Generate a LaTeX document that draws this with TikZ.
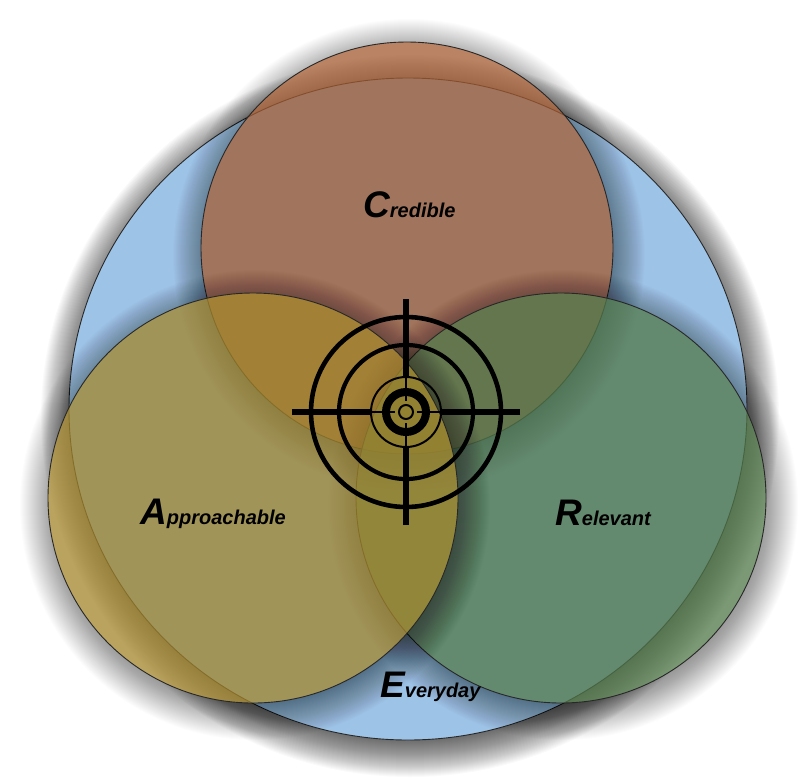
\documentclass[tikz,border=0pt]{standalone}
\usepackage{fontspec}
\setmainfont{Liberation Sans}
\usetikzlibrary{calc}
\definecolor{eblue}{RGB}{157,195,230}
\definecolor{cbrown}{RGB}{163,90,48}
\definecolor{agold}{RGB}{163,133,42}
\definecolor{rgreen}{RGB}{80,119,72}
\definecolor{edgecol}{RGB}{40,40,40}
\tikzset{
  outline/.style={draw=edgecol, line width=0.9pt},
  translucent/.style={fill opacity=0.75},
  lbl/.style={inner sep=0pt, anchor=base west, text=black,
    font=\bfseries\itshape\fontsize{20}{20}\selectfont},
  thickline/.style={draw=black, line width=5.3pt},
  thinline/.style={draw=black, line width=2.5pt},
}
\newcommand\BigLetter[1]{{\fontsize{37}{37}\selectfont #1}}
% #1 centre, #2 rx, #3 ry, #4 opacity per layer
\newcommand\shadowlayers[4]{%
  \foreach \e in {-8,-7,...,30} {
    \fill[black, fill opacity=#4] ([shift={(2,7)}]#1)
      ellipse [x radius={#2pt+(\e)*1pt}, y radius={#3pt+(\e)*1pt}];
  }}
\begin{document}
\begin{tikzpicture}[x=1pt,y=-1pt]
\useasboundingbox (0,0) rectangle (800,782);
\fill[white] (0,0) rectangle (800,782);
% Everyday (blue)
\shadowlayers{408,409}{339}{331}{0.019}
\path[fill=eblue, outline] (408,409) ellipse [x radius=339pt, y radius=331pt];
% Credible
\begin{scope}[even odd rule]
  \clip (-10,-10) rectangle (810,792) (407,248) circle [radius=206pt];
  \shadowlayers{407,248}{206}{206}{0.011}
\end{scope}
\path[fill=cbrown, translucent, outline] (407,248) circle [radius=206pt];
% Relevant
\begin{scope}[even odd rule]
  \clip (-10,-10) rectangle (810,792) (561,498) circle [radius=205pt];
  \shadowlayers{561,498}{205}{205}{0.011}
\end{scope}
\path[fill=rgreen, translucent, outline] (561,498) circle [radius=205pt];
% Approachable
\begin{scope}[even odd rule]
  \clip (-10,-10) rectangle (810,792) (253,498) circle [radius=205pt];
  \shadowlayers{253,498}{205}{205}{0.011}
\end{scope}
\path[fill=agold, translucent, outline] (253,498) circle [radius=205pt];
% labels
\node[lbl] (credible) at (363,217) {\BigLetter{C}redible};
\node[lbl] (approachable) at (140,524) {\BigLetter{A}pproachable};
\node[lbl] (relevant) at (555,525) {\BigLetter{R}elevant};
\node[lbl] (everyday) at (380,697) {\BigLetter{E}veryday};
% target
\coordinate (tc) at (406,412);
\foreach \r/\w in {95/4.6, 67/4.2, 35/2, 20/8, 7/2}
  \draw[line width=\w pt] (tc) circle [radius=\r pt];
\draw[thickline] ($(tc)+(0,-113)$) -- ($(tc)+(0,-35)$);
\draw[thickline] ($(tc)+(0,113)$) -- ($(tc)+(0,35)$);
\draw[thickline] ($(tc)+(-114,0)$) -- ($(tc)+(-35,0)$);
\draw[thickline] ($(tc)+(114,0)$) -- ($(tc)+(35,0)$);
\draw[thinline] ($(tc)+(0,-35)$) -- ($(tc)+(0,-11)$);
\draw[thinline] ($(tc)+(0,35)$) -- ($(tc)+(0,11)$);
\draw[thinline] ($(tc)+(-35,0)$) -- ($(tc)+(-11,0)$);
\draw[thinline] ($(tc)+(35,0)$) -- ($(tc)+(11,0)$);
\end{tikzpicture}
\end{document}
